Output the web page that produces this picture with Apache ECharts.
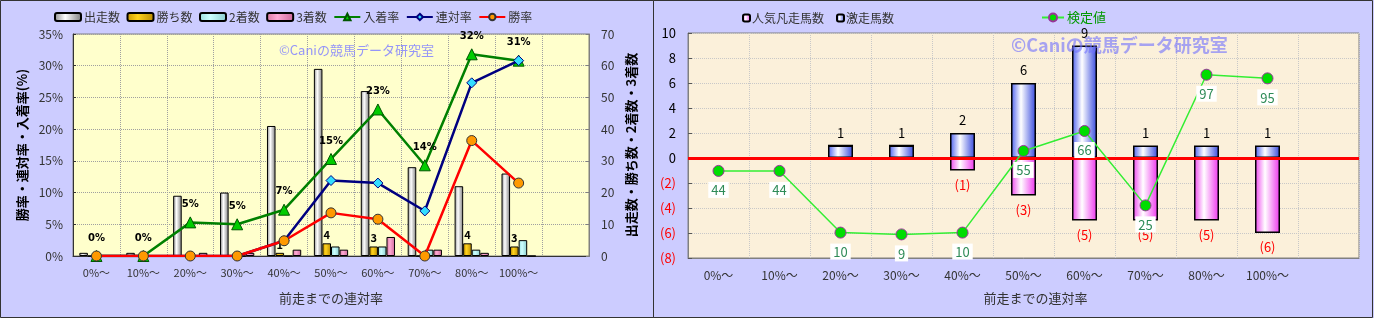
<!DOCTYPE html>
<html><head><meta charset="utf-8">
<script src="https://cdn.jsdelivr.net/npm/echarts@6/dist/echarts.min.js"></script>
<style>html,body{margin:0;padding:0;background:#CCCCFF;}#c{width:1374px;height:318px;}</style>
</head><body><div id="c"></div>
<script>
// ---- data ----
const categories = ['0%〜','10%〜','20%〜','30%〜','40%〜','50%〜','60%〜','70%〜','80%〜','100%〜',''];
const starts  = [1,1,19,20,41,59,52,28,22,26];      // 出走数
const wins    = [0,0,0,0,1,4,3,0,4,3];              // 勝ち数
const seconds = [0,0,0,0,0,3,3,2,2,5];              // 2着数
const thirds  = [0,0,1,1,2,2,6,2,1,0];              // 3着数
const placeRate    = [0,0,5.3,5.0,7.3,15.3,23.1,14.3,31.8,30.8]; // 入着率
const quinellaRate = [0,0,0,0,2.4,11.9,11.5,7.1,27.3,30.8];      // 連対率
const winRate      = [0,0,0,0,2.4,6.8,5.8,0,18.2,11.5];          // 勝率
const popularFail = [0,0,0,0,-1,-3,-5,-5,-5,-6];   // 人気凡走馬数
const upsets      = [0,0,1,1,2,6,9,1,1,1];         // 激走馬数
const testValues  = [44,44,10,9,10,55,66,25,97,95]; // 検定値

const FF = '"Noto Sans CJK JP", sans-serif';
const grad = (a,b,c) => new echarts.graphic.LinearGradient(0,0,1,0,[{offset:0,color:a},{offset:0.4,color:b},{offset:1,color:c}]);

const chart = echarts.init(document.getElementById('c'), null, {renderer:'canvas'});
const option = {
  backgroundColor: '#CCCCFF',
  textStyle: {fontFamily: FF},
  animation: false,
  legend: [
    {left: 49, top: 6, itemWidth: 26, itemHeight: 8, itemGap: 6.5,
     textStyle: {fontSize: 12, color: '#333', fontFamily: FF, padding: [0,0,0,-2]},
     data: ['出走数','勝ち数','2着数','3着数','入着率','連対率','勝率']},
    {left: 737, top: 7, itemWidth: 7, itemHeight: 7, itemGap: 12,
     textStyle: {fontSize: 12, color: '#333', fontFamily: FF, padding: [0,0,0,-3]},
     data: ['人気凡走馬数','激走馬数']},
    {left: 1036, top: 6, itemWidth: 22, itemHeight: 10, itemGap: 10,
     textStyle: {fontSize: 13, color: '#009900', fontFamily: FF, padding: [0,0,0,-2]},
     data: ['検定値']}
  ],
  grid: [
    {left: 73, top: 34, width: 516, height: 222, show: true, backgroundColor: '#FFFFCC', borderColor: '#808080', borderWidth: 1},
    {left: 688, top: 33, width: 671, height: 225, show: true, backgroundColor: '#FBF0DA', borderColor: '#808080', borderWidth: 1}
  ],
  xAxis: [
    {type: 'category', gridIndex: 0, data: categories, boundaryGap: true,
     axisLine: {lineStyle: {color: '#333'}}, axisTick: {show: false},
     axisLabel: {fontSize: 11, color: '#333', margin: 11, interval: 0},
     splitLine: {show: true, interval: 0, lineStyle: {type: 'dotted', color: '#A0A0A0'}},
     name: '前走までの連対率', nameLocation: 'middle', nameGap: 36,
     nameTextStyle: {fontSize: 13, color: '#333'}},
    {type: 'category', gridIndex: 1, data: categories, boundaryGap: true,
     axisLine: {onZero: false, lineStyle: {color: '#808080'}}, axisTick: {show: false},
     axisLabel: {fontSize: 12, color: '#333', margin: 11, interval: 0},
     splitLine: {show: true, interval: 0, lineStyle: {type: 'dotted', color: '#C8C8C8'}},
     name: '前走までの連対率', nameLocation: 'middle', nameGap: 34,
     nameTextStyle: {fontSize: 13, color: '#333', padding: [0,0,0,24]}}
  ],
  yAxis: [
    {type: 'value', gridIndex: 0, min: 0, max: 35, interval: 5, position: 'left',
     axisLine: {show: true, lineStyle: {color: '#333'}}, axisTick: {show: true, inside: true, length: 3},
     axisLabel: {formatter: '{value}%', fontSize: 12, color: '#333', margin: 10},
     splitLine: {show: true, lineStyle: {type: 'dotted', color: '#A0A0A0'}},
     name: '勝率・連対率・入着率(%)', nameLocation: 'middle', nameRotate: 90, nameGap: 44,
     nameTextStyle: {fontSize: 13, color: '#000', fontWeight: 'bold'}},
    {type: 'value', gridIndex: 0, min: 0, max: 70, interval: 10, position: 'right',
     axisLine: {show: true, lineStyle: {color: '#808080'}}, axisTick: {show: true, inside: true, length: 3},
     axisLabel: {fontSize: 12, color: '#333', margin: 12},
     splitLine: {show: false},
     name: '出走数・勝ち数・2着数・3着数', nameLocation: 'middle', nameRotate: 90, nameGap: 36,
     nameTextStyle: {fontSize: 13, color: '#000', fontWeight: 'bold'}},
    {type: 'value', gridIndex: 1, min: -8, max: 10, interval: 2,
     axisLine: {show: true, lineStyle: {color: '#808080'}}, axisTick: {show: true, inside: true, length: 4, lineStyle: {color: '#555'}},
     axisLabel: {margin: 12, formatter: v => v < 0 ? '{r|(' + (-v) + ')}' : '{b|' + v + '}',
       rich: {r: {color: '#FF0000', fontSize: 13, fontFamily: FF}, b: {color: '#000', fontSize: 13, fontFamily: FF}}},
     splitLine: {show: true, lineStyle: {type: 'dotted', color: '#C8C8C8'}}},
    {type: 'value', gridIndex: 1, min: -4, max: 120, show: false, splitLine: {show: false}}
  ],
  series: [
    {name: '出走数', type: 'bar', xAxisIndex: 0, yAxisIndex: 1, data: starts, barGap: '0%', barCategoryGap: '27%',
     itemStyle: {color: grad('#8A8A8A','#FFFFFF','#7A7A7A'), borderColor: '#000', borderWidth: 1}},
    {name: '勝ち数', type: 'bar', xAxisIndex: 0, yAxisIndex: 1, data: wins, barGap: '0%', barCategoryGap: '27%',
     itemStyle: {color: grad('#C89600','#FFD21E','#B88A00'), borderColor: '#000', borderWidth: 1},
     label: {show: true, position: 'top', distance: 3, fontSize: 11, fontWeight: 'bold', color: '#000',
       formatter: p => p.value > 0 ? p.value : ''}},
    {name: '2着数', type: 'bar', xAxisIndex: 0, yAxisIndex: 1, data: seconds, barGap: '0%', barCategoryGap: '27%',
     itemStyle: {color: grad('#99DDDD','#CCFFFF','#88CCCC'), borderColor: '#000', borderWidth: 1}},
    {name: '3着数', type: 'bar', xAxisIndex: 0, yAxisIndex: 1, data: thirds, barGap: '0%', barCategoryGap: '27%',
     itemStyle: {color: grad('#D9779F','#FFAAD4','#CC6699'), borderColor: '#000', borderWidth: 1}},
    {name: '入着率', type: 'line', xAxisIndex: 0, yAxisIndex: 0, data: placeRate, z: 3,
     lineStyle: {color: '#008000', width: 2.5}, symbol: 'triangle', symbolSize: 11,
     itemStyle: {color: '#00CC00', borderColor: '#005500', borderWidth: 1},
     label: {show: true, position: 'top', distance: 7, fontSize: 10, fontWeight: 'bold', color: '#000',
       fontFamily: 'DejaVu Sans', formatter: p => Math.round(p.value) + '%'}},
    {name: '連対率', type: 'line', xAxisIndex: 0, yAxisIndex: 0, data: quinellaRate, z: 4,
     lineStyle: {color: '#000080', width: 2.5}, symbol: 'diamond', symbolSize: 10,
     itemStyle: {color: '#33DDFF', borderColor: '#000080', borderWidth: 1}},
    {name: '勝率', type: 'line', xAxisIndex: 0, yAxisIndex: 0, data: winRate, z: 5,
     lineStyle: {color: '#FF0000', width: 2.5}, symbol: 'circle', symbolSize: 10,
     itemStyle: {color: '#FF9900', borderColor: '#333', borderWidth: 1}},
    {name: '激走馬数', type: 'bar', xAxisIndex: 1, yAxisIndex: 2, data: upsets, stack: 's', barWidth: 25,
     itemStyle: {color: grad('#4A5EEE','#FFFFFF','#3548DD'), borderColor: '#000', borderWidth: 1.5},
     label: {show: true, position: 'top', distance: 6, fontSize: 13, color: '#000',
       formatter: p => p.value > 0 ? p.value : ''}},
    {name: '人気凡走馬数', type: 'bar', xAxisIndex: 1, yAxisIndex: 2, data: popularFail, stack: 's', barWidth: 25,
     itemStyle: {color: grad('#EE44EE','#FFFFFF','#EE33EE'), borderColor: '#000', borderWidth: 1.5},
     label: {show: true, position: 'bottom', distance: 8, fontSize: 13, color: '#FF0000',
       formatter: p => p.value < 0 ? '(' + (-p.value) + ')' : ''},
     markLine: {silent: true, symbol: 'none', label: {show: false},
       lineStyle: {color: '#FF0000', width: 3, type: 'solid'}, data: [{yAxis: 0}]}},
    {name: '検定値', type: 'line', xAxisIndex: 1, yAxisIndex: 3, data: testValues, z: 6,
     lineStyle: {color: '#33EE33', width: 1.5}, symbol: 'circle', symbolSize: 11,
     itemStyle: {color: '#00DD00', borderColor: '#993399', borderWidth: 1},
     label: {show: true, position: 'bottom', distance: 5, fontSize: 13, color: '#2E8B57',
       backgroundColor: '#FFFFFF', padding: [2,3,1,3]}}
  ],
  graphic: [
    {type: 'text', left: 279, top: 44, z: 1, style: {text: '©Caniの競馬データ研究室', fill: 'rgba(130,130,255,0.85)', font: '13px ' + FF}},
    {type: 'text', left: 1011, top: 36, z: 100, style: {text: '©Caniの競馬データ研究室', fill: 'rgba(110,110,255,0.6)', font: 'bold 18px ' + FF}},
    {type: 'rect', z: 100, shape: {x: 0.5, y: 0.5, width: 653, height: 317}, style: {fill: 'none', stroke: '#333', lineWidth: 1}},
    {type: 'rect', z: 100, shape: {x: 653.5, y: 0.5, width: 719, height: 317}, style: {fill: 'none', stroke: '#333', lineWidth: 1}}
  ]
};
chart.setOption(option);
</script></body></html>
